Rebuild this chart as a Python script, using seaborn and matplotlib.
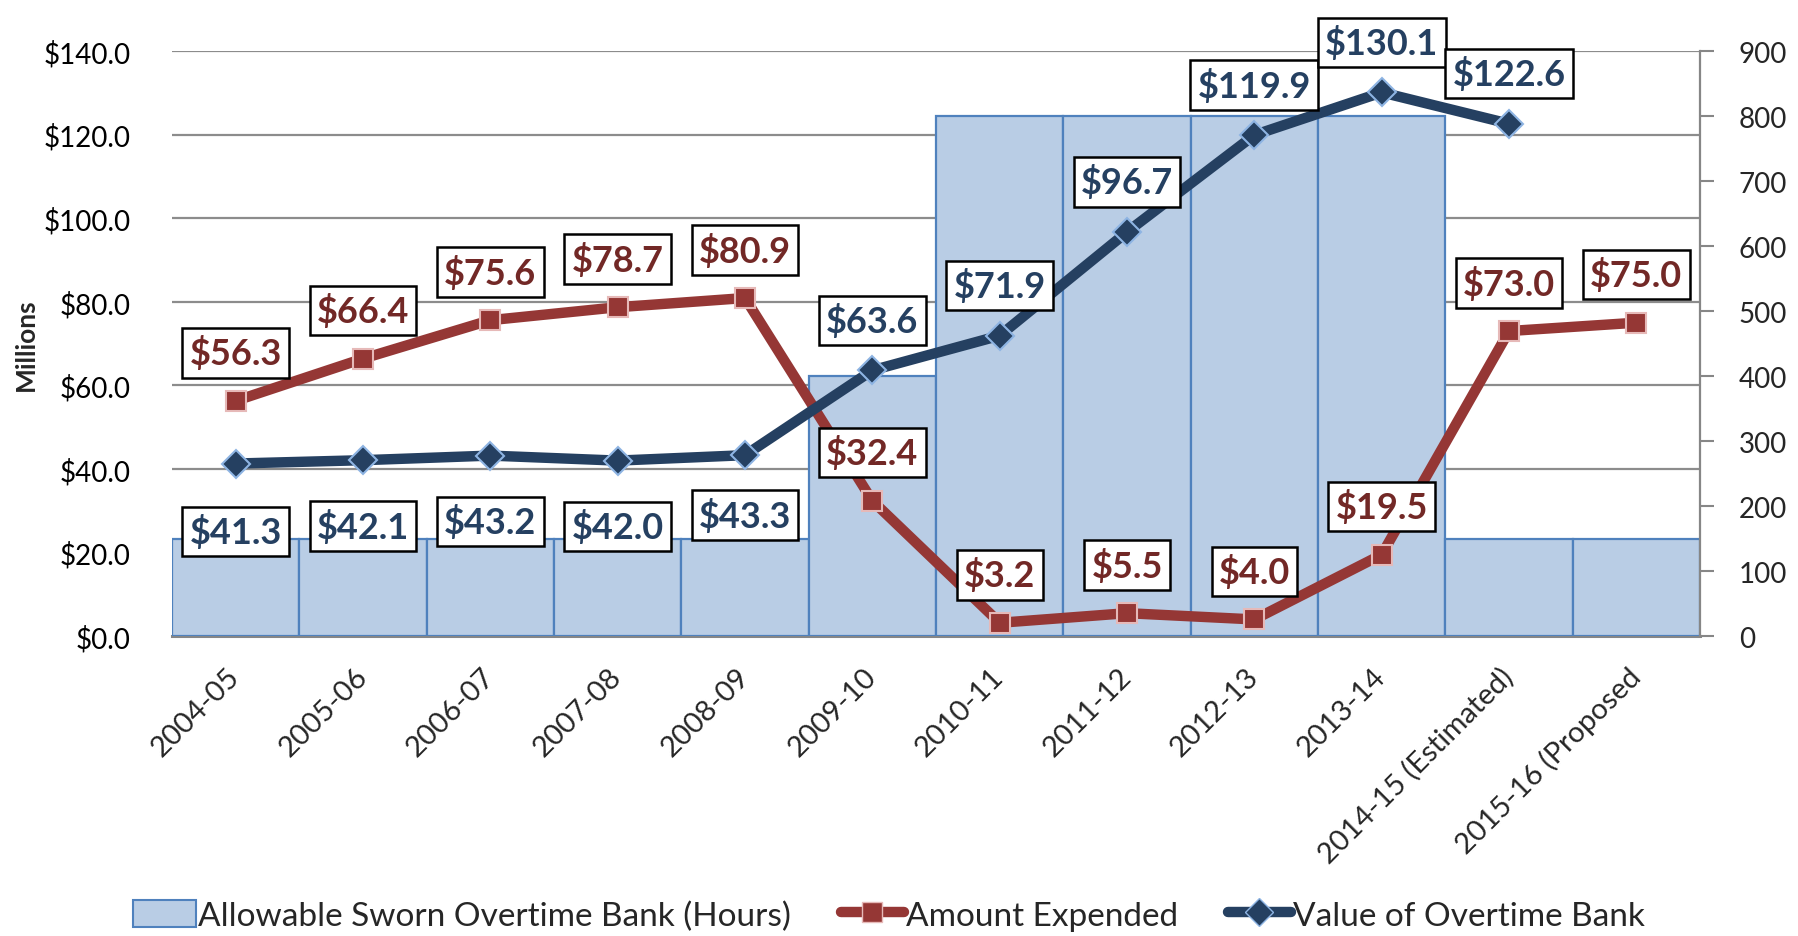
import matplotlib
matplotlib.use("Agg")
import matplotlib.pyplot as plt
import seaborn as sns
import numpy as np
from matplotlib.patches import Patch
from matplotlib.lines import Line2D
from matplotlib.ticker import MultipleLocator, FuncFormatter

# fiscal years on the x axis
years = ["2004-05", "2005-06", "2006-07", "2007-08", "2008-09", "2009-10",
         "2010-11", "2011-12", "2012-13", "2013-14", "2014-15 (Estimated)",
         "2015-16 (Proposed"]

# allowable sworn overtime bank, hours (right axis)
bank_hours = [150, 150, 150, 150, 150, 400, 800, 800, 800, 800, 150, 150]

# amount expended, $ millions (left axis)
expended = [56.3, 66.4, 75.6, 78.7, 80.9, 32.4, 3.2, 5.5, 4.0, 19.5, 73.0, 75.0]

# value of overtime bank, $ millions (left axis), no value for 2015-16
bank_value = [41.3, 42.1, 43.2, 42.0, 43.3, 63.6, 71.9, 96.7, 119.9, 130.1, 122.6, np.nan]

RED = "#953735"
RED_TXT = "#722826"
BLUE = "#254061"
BAR_FACE = "#b9cde5"
BAR_EDGE = "#4f81bd"
GRID = "#8c8c8c"

sns.set_theme(style="white")
plt.rcParams["font.family"] = ["Lato", "DejaVu Sans"]

fig = plt.figure(figsize=(17.99, 9.37), dpi=100)
ax = fig.add_axes([0.0956, 0.320, 0.945 - 0.0956, 0.9445 - 0.320])
axb = ax.twinx()   # bars, right scale
axl = ax.twinx()   # lines, same scale as left

pos = np.arange(len(years))

# --- base axis: left ticks + gridlines (drawn under the bars)
ax.set_ylim(0, 140)
ax.yaxis.set_major_locator(MultipleLocator(20))
ax.yaxis.set_major_formatter(FuncFormatter(lambda v, p: f"${v:.1f}"))
ax.grid(axis="y", color=GRID, lw=1.6)
ax.grid(axis="x", visible=False)
ax.tick_params(axis="y", length=0, labelsize=20, pad=30, colors="black")
ax.set_ylabel("Millions", fontsize=19, fontweight="bold")
ax.yaxis.set_label_coords(-0.088, 0.5)
for s in ["top", "left", "right"]:
    ax.spines[s].set_visible(False)
ax.spines["bottom"].set_color("#868686")
ax.spines["bottom"].set_linewidth(2.2)

# --- bars
sns.barplot(x=pos, y=bank_hours, ax=axb, color=BAR_FACE, edgecolor=BAR_EDGE,
            linewidth=1.6, width=1.0, saturation=1)
axb.set_ylim(0, 900)
axb.yaxis.set_major_locator(MultipleLocator(100))
axb.tick_params(axis="y", length=10, width=1.5, color="#868686", labelsize=20,
                pad=18, right=True, labelright=True, left=False, labelleft=False)
axb.set_ylabel("")
for s in ["top", "left", "bottom"]:
    axb.spines[s].set_visible(False)
axb.spines["right"].set_color("#868686")
axb.spines["right"].set_linewidth(1.6)

# --- lines
sns.lineplot(x=pos, y=expended, ax=axl, color=RED, lw=7.5, marker="s",
             markersize=14, markeredgecolor="#e6b9b8", markeredgewidth=1.5,
             markerfacecolor=RED)
sns.lineplot(x=pos, y=bank_value, ax=axl, color=BLUE, lw=7.5, marker="D",
             markersize=14, markeredgecolor="#8eb4e3", markeredgewidth=1.5,
             markerfacecolor=BLUE)
axl.set_ylim(0, 140)
axl.set_yticks([])
axl.set_ylabel("")
for s in axl.spines.values():
    s.set_visible(False)

box = dict(boxstyle="square,pad=0.2", fc="white", ec="black", lw=1.8)
for x, v in zip(pos, expended):
    axl.annotate(f"${v:.1f}", (x, v), xytext=(0, 48), textcoords="offset pixels",
                 ha="center", va="center", fontsize=26, fontweight="bold",
                 color=RED_TXT, bbox=box)
bank_label_dy = [-68, -66, -66, -66, -60, 50, 50, 50, 50, 50, 50, 50]
for x, v, dy in zip(pos, bank_value, bank_label_dy):
    if np.isnan(v):
        continue
    axl.annotate(f"${v:.1f}", (x, v), xytext=(0, dy), textcoords="offset pixels",
                 ha="center", va="center", fontsize=26, fontweight="bold",
                 color=BLUE, bbox=box)

# --- x axis
ax.set_xlim(-0.5, len(years) - 0.5)
ax.set_xticks(pos)
ax.set_xticklabels(years, rotation=45, ha="right", va="center",
                   rotation_mode="anchor", fontsize=21)
ax.tick_params(axis="x", length=0, pad=26)
axb.set_xlim(-0.5, len(years) - 0.5)
axl.set_xlim(-0.5, len(years) - 0.5)

# --- legend
handles = [
    Patch(facecolor=BAR_FACE, edgecolor=BAR_EDGE, lw=1.5),
    Line2D([], [], color=RED, lw=7.5, marker="s", markersize=14,
           markeredgecolor="#e6b9b8", markerfacecolor=RED),
    Line2D([], [], color=BLUE, lw=7.5, marker="D", markersize=14,
           markeredgecolor="#8eb4e3", markerfacecolor=BLUE),
]
labels = ["Allowable Sworn Overtime Bank (Hours)", "Amount Expended",
          "Value of Overtime Bank"]
fig.legend(handles, labels, loc="center", bbox_to_anchor=(0.494, 0.022),
           ncol=3, frameon=False, fontsize=24, handlelength=1.9,
           handleheight=0.9, handletextpad=0.05, columnspacing=1.5)

fig.savefig("out.png", dpi=100)
